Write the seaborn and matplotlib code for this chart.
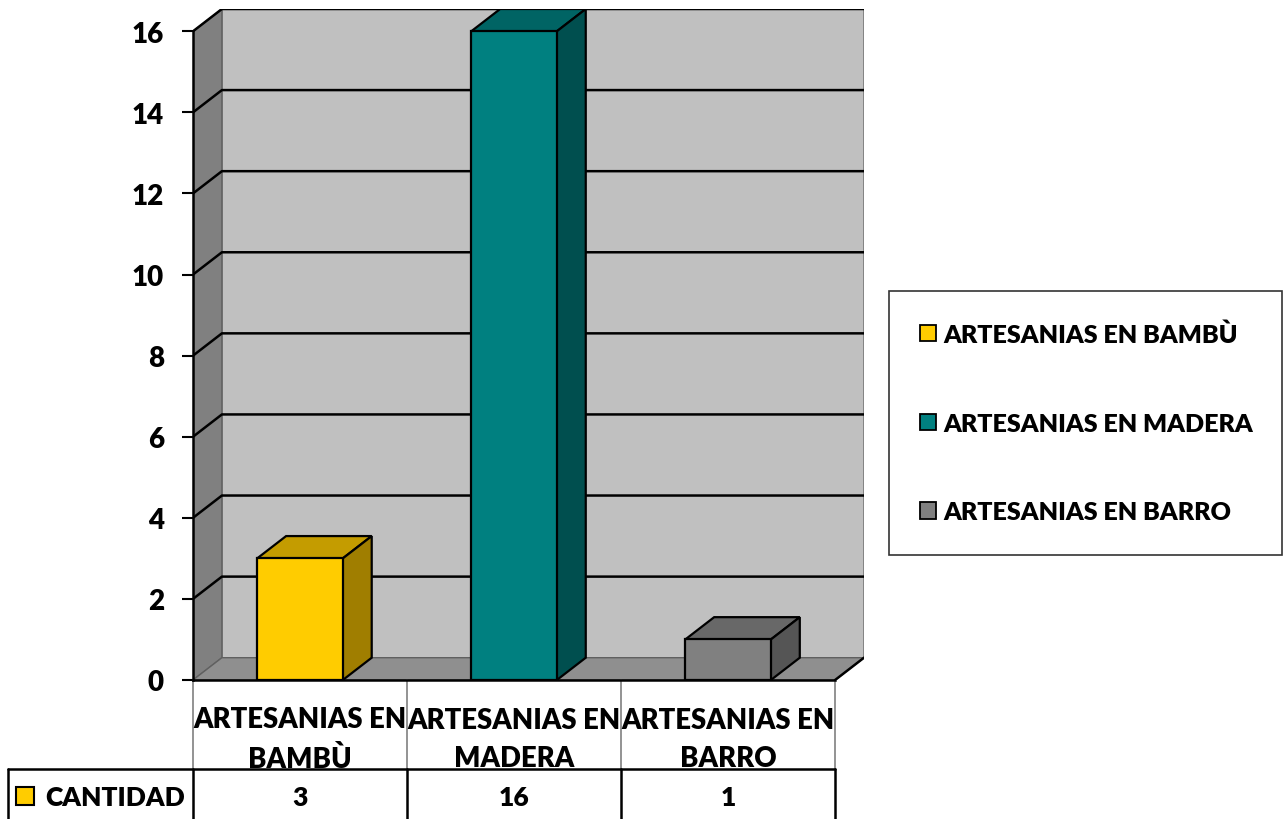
import numpy as np
import pandas as pd
import matplotlib
matplotlib.use("Agg")
import matplotlib.pyplot as plt
import matplotlib.transforms as mtransforms
from matplotlib.patches import Polygon, Rectangle, Patch
import seaborn as sns

# Data
categories = ["ARTESANIAS EN\nBAMBÙ", "ARTESANIAS EN\nMADERA", "ARTESANIAS EN\nBARRO"]
legend_labels = ["ARTESANIAS EN BAMBÙ", "ARTESANIAS EN MADERA", "ARTESANIAS EN BARRO"]
cantidad = [3, 16, 1]
series_name = "CANTIDAD"
y_ticks = [0, 2, 4, 6, 8, 10, 12, 14, 16]

front_colors = ["#FFCC00", "#008080", "#808080"]
top_colors = ["#C49C00", "#006464", "#686868"]
side_colors = ["#A07E00", "#004F4F", "#555555"]

W, H = 1287, 820
DX, DY = 0.135, 0.55   # depth of the 3D box in data units

sns.set_theme(style="white")
plt.rcParams['font.family'] = ['Lato', 'DejaVu Sans']
plt.rcParams['font.weight'] = 'heavy'
for k in ["text.color", "axes.labelcolor", "xtick.color", "ytick.color"]:
    plt.rcParams[k] = "black"
WT = "heavy"
FS_TICK = 20
FS_HEAD = 19.8
FS_ROW = 19
FS_LEG = 18.1

fig = plt.figure(figsize=(W / 100, H / 100), dpi=100)
fig.patch.set_facecolor("white")


def fy(py):
    return (H - py) / H


ax = fig.add_axes([193 / W, fy(681), (864 - 193) / W, (681 - 10) / H])
ax.set_facecolor("none")

df = pd.DataFrame({"cat": categories, "val": cantidad})
sns.barplot(data=df, x="cat", y="val", hue="cat", palette=front_colors, saturation=1,
            width=0.4, edgecolor="black", linewidth=1.6, legend=False,
            ax=ax, zorder=6)

ax.set_xlim(-0.5, 2.5 + DX)
ax.set_ylim(0, 16 + DY)
ymax = max(y_ticks)

# walls and floor
ax.add_patch(Rectangle((-0.5 + DX, DY), 3, ymax, facecolor="#C0C0C0",
                       edgecolor="#7a7a7a", lw=1.2, zorder=1))
ax.add_patch(Polygon([(-0.5, 0), (-0.5 + DX, DY), (-0.5 + DX, ymax + DY), (-0.5, ymax)],
                     closed=True, facecolor="#808080", edgecolor="#606060", lw=1, zorder=2))
ax.add_patch(Polygon([(-0.5, 0), (2.5, 0), (2.5 + DX, DY), (-0.5 + DX, DY)],
                     closed=True, facecolor="#8F8F8F", edgecolor="#606060", lw=1, zorder=2))

# gridlines on back and side walls
for v in y_ticks[1:]:
    ax.plot([-0.5, -0.5 + DX, 2.5 + DX], [v, v + DY, v + DY], color="black", lw=1.8, zorder=3,
            solid_capstyle="butt")
ax.plot([2.5, 2.5 + DX], [0, DY], color="black", lw=1.8, zorder=3)

# 3D faces of the bars
for i, cont in enumerate(ax.containers):
    for bar in cont:
        x0, w, h = bar.get_x(), bar.get_width(), bar.get_height()
        top = Polygon([(x0, h), (x0 + DX, h + DY), (x0 + w + DX, h + DY), (x0 + w, h)],
                      closed=True, facecolor=top_colors[i], edgecolor="black", lw=1.6, zorder=5)
        side = Polygon([(x0 + w, 0), (x0 + w + DX, DY), (x0 + w + DX, h + DY), (x0 + w, h)],
                       closed=True, facecolor=side_colors[i], edgecolor="black", lw=1.6, zorder=5)
        ax.add_patch(top)
        ax.add_patch(side)

# axes
for s in ["top", "right"]:
    ax.spines[s].set_visible(False)
ax.spines["left"].set_bounds(0, ymax)
ax.spines["bottom"].set_bounds(-0.5, 2.5)
for s in ["left", "bottom"]:
    ax.spines[s].set_color("black")
    ax.spines[s].set_linewidth(1.8)
    ax.spines[s].set_zorder(7)
ax.set_yticks(y_ticks)
ax.set_yticklabels([str(t) for t in y_ticks], fontsize=FS_TICK, fontweight=WT)
ax.tick_params(axis="y", direction="out", length=8, width=1.5, color="black", pad=13, left=True)
ax.set_xticks([])
ax.set_xlabel("")
ax.set_ylabel("")

# data table below the plot
tr = mtransforms.blended_transform_factory(ax.transData, fig.transFigure)
bounds = [-0.5, 0.5, 1.5, 2.5]
for b in bounds:
    ax.plot([b, b], [fy(681), fy(770)], color="#8a8a8a", lw=1.3, transform=tr, clip_on=False)
    ax.plot([b, b], [fy(770), fy(821)], color="black", lw=1.8, transform=tr, clip_on=False)
fig.add_artist(plt.Line2D([8 / W, 835 / W], [fy(770), fy(770)], color="black", lw=1.8))
fig.add_artist(plt.Line2D([8 / W, 8 / W], [fy(770), fy(821)], color="black", lw=1.8))

for i, (cat, val) in enumerate(zip(categories, cantidad)):
    ax.text(i, fy(740), cat, transform=tr, ha="center", va="center", fontsize=FS_HEAD,
            fontweight=WT, linespacing=1.55, clip_on=False)
    ax.text(i, fy(798), str(val), transform=tr, ha="center", va="center", fontsize=FS_ROW,
            fontweight=WT, clip_on=False)

fig.add_artist(Rectangle((16 / W, fy(806)), 18 / W, 18 / H, facecolor=front_colors[0],
                         edgecolor="black", lw=1.5, transform=fig.transFigure))
fig.text(45 / W, fy(798), series_name, ha="left", va="center", fontsize=FS_ROW, fontweight=WT)

# legend
handles = [Patch(facecolor=c, edgecolor="black", lw=1.3) for c in front_colors]
leg = fig.legend(handles, legend_labels, loc="center",
                 bbox_to_anchor=(889 / W, fy(557), (1282 - 889) / W, (557 - 291) / H),
                 mode="expand", borderaxespad=0, prop={"weight": WT, "size": FS_LEG},
                 frameon=True, fancybox=False, edgecolor="black", labelspacing=2.65,
                 handlelength=0.62, handleheight=0.62, handletextpad=0.32, borderpad=1.24)
leg.get_frame().set_linewidth(1.2)

plt.savefig("out.png", dpi=100)
plt.close()
